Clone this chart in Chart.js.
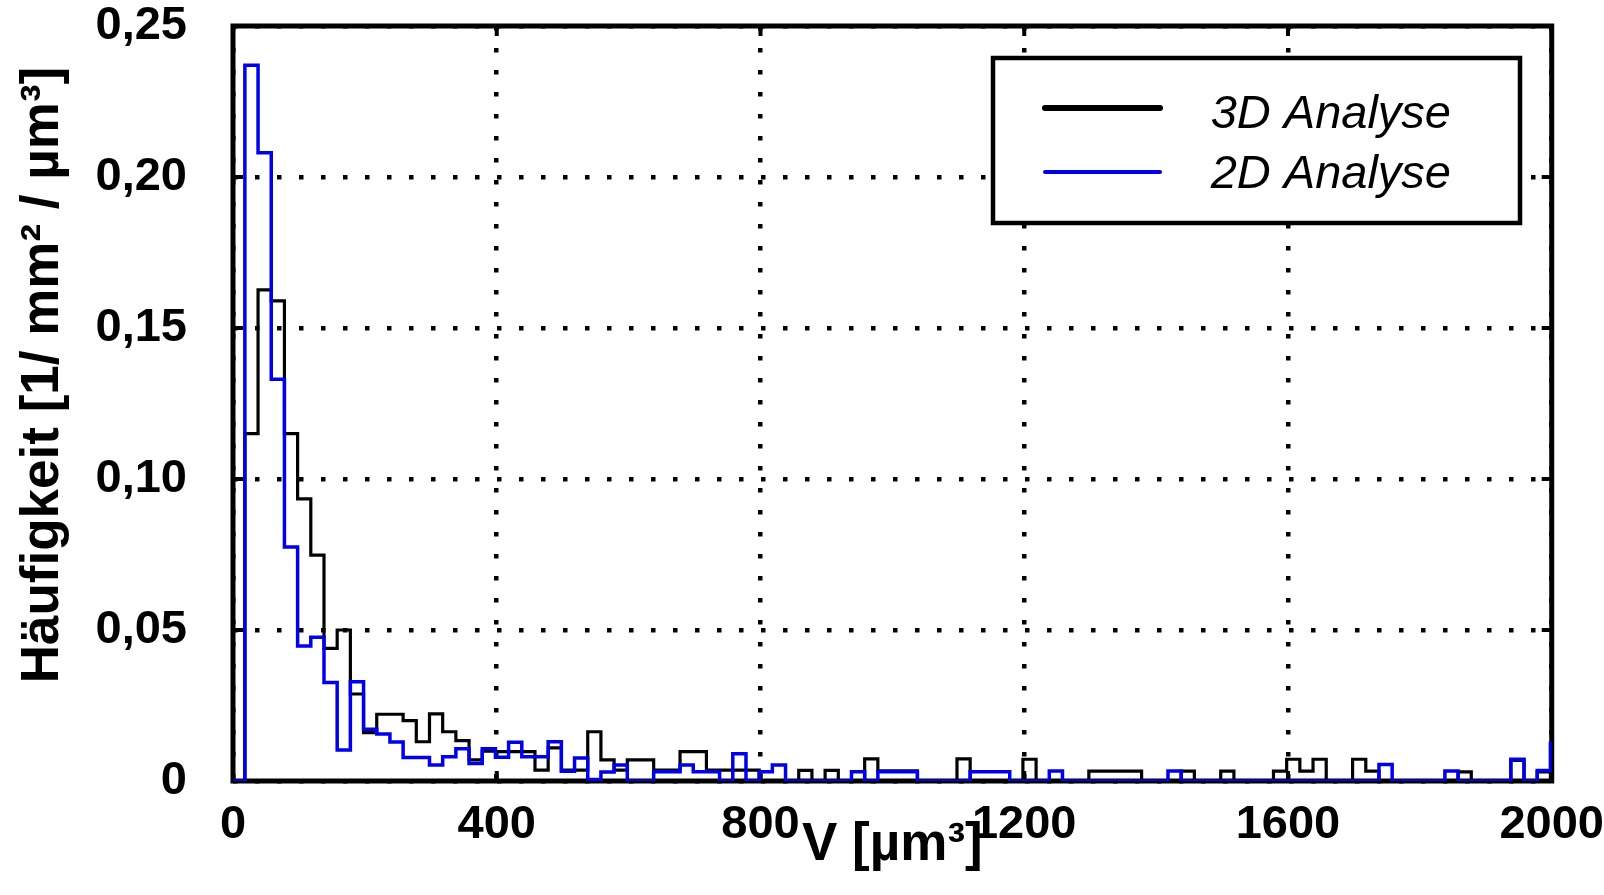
<!DOCTYPE html>
<html>
<head>
<meta charset="utf-8">
<script src="https://cdn.jsdelivr.net/npm/chart.js@4.4.0/dist/chart.umd.min.js"></script>
<style>
  html, body { margin: 0; padding: 0; background: #fff; }
  #wrap { width: 1604px; height: 895px; }
</style>
</head>
<body>
<div id="wrap"><canvas id="hist" width="1604" height="895"></canvas></div>
<script>
// histogram bins: left edge of first bin and bin width (µm³)
const binStart = 18;
const binWidth = 20;

const analyse3D = [
  0.115, 0.1626, 0.159, 0.115, 0.0934, 0.0748, 0.0439, 0.050, 0.0288, 0.016,
  0.0221, 0.0221, 0.02, 0.013, 0.0222, 0.0163, 0.0134, 0.007, 0.0099, 0.0097,
  0.0097, 0.0097, 0.0036, 0.011, 0.0036, 0.0036, 0.0163, 0.007, 0.0036, 0.007,
  0.007, 0.0036, 0.0036, 0.0097, 0.0097, 0.0036, 0.0036, 0.0036, 0.0036, 0,
  0, 0, 0.0035, 0, 0.0035, 0, 0, 0.0073, 0.0034, 0.0034,
  0.0034, 0, 0, 0, 0.0073, 0, 0, 0, 0, 0.0072,
  0, 0, 0, 0, 0.0033, 0.0033, 0.0033, 0.0033, 0, 0,
  0, 0.0033, 0, 0, 0.0033, 0, 0, 0, 0.0033, 0.0072,
  0.0033, 0.0072, 0, 0, 0.0072, 0.0033, 0, 0, 0, 0,
  0, 0, 0.003, 0, 0, 0, 0.0068, 0, 0.003, 0
];

const analyse2D = [
  0.237, 0.208, 0.133, 0.0775, 0.0447, 0.0476, 0.0326, 0.0103, 0.0329, 0.0171,
  0.0156, 0.0129, 0.0078, 0.0078, 0.0053, 0.008, 0.0107, 0.0058, 0.0107, 0.0079,
  0.0128, 0.008, 0.008, 0.013, 0.0032, 0.0076, 0.0005, 0.003, 0.0053, 0,
  0, 0.0031, 0.0031, 0.0053, 0.0031, 0.0031, 0, 0.009, 0, 0.0031,
  0.0053, 0, 0, 0, 0, 0, 0.0031, 0, 0.0031, 0.0031,
  0.0031, 0, 0, 0, 0, 0.0031, 0.0031, 0.0031, 0, 0,
  0, 0.0033, 0, 0, 0, 0, 0, 0, 0, 0,
  0.0033, 0, 0, 0, 0, 0, 0, 0, 0, 0,
  0, 0, 0, 0, 0, 0, 0.0055, 0, 0, 0,
  0, 0.0033, 0, 0, 0, 0, 0.0072, 0, 0.0035, 0.0125
];

const seriesNames = ['3D Analyse', '2D Analyse'];
const yTickLabels = ['0', '0,05', '0,10', '0,15', '0,20', '0,25'];
const xTitle = 'V [µm³]';
const yTitle = 'Häufigkeit [1/ mm² / µm³]';

const FONT = "'Liberation Sans', Arial, Helvetica, sans-serif";
const BLUE = '#0000ee';

// turn bin values into step points (left edge of every bin)
function toSteps(values) {
  const pts = [{ x: 0, y: 0 }];
  values.forEach((v, i) => pts.push({ x: binStart + i * binWidth, y: v }));
  pts.push({ x: binStart + values.length * binWidth, y: 0 });
  return pts;
}

// frame + inward tick marks under the lines, titles and legend on top
const framePlugin = {
  id: 'frame',
  beforeDatasetsDraw(chart) {
    const { ctx, chartArea: a, scales } = chart;
    ctx.save();
    ctx.strokeStyle = '#000';
    ctx.lineWidth = 4;
    ctx.beginPath();
    scales.x.ticks.forEach(t => {
      const px = scales.x.getPixelForValue(t.value);
      ctx.moveTo(px, a.bottom); ctx.lineTo(px, a.bottom - 10);
      ctx.moveTo(px, a.top); ctx.lineTo(px, a.top + 10);
    });
    scales.y.ticks.forEach(t => {
      const py = scales.y.getPixelForValue(t.value);
      ctx.moveTo(a.left, py); ctx.lineTo(a.left + 10, py);
      ctx.moveTo(a.right, py); ctx.lineTo(a.right - 10, py);
    });
    ctx.stroke();
    ctx.lineWidth = 5;
    ctx.strokeRect(a.left, a.top, a.right - a.left, a.bottom - a.top);
    ctx.restore();
  },
  afterDraw(chart) {
    const { ctx, chartArea: a } = chart;
    ctx.save();
    ctx.fillStyle = '#000';

    // axis titles
    ctx.font = 'bold 53px ' + FONT;
    ctx.textAlign = 'center';
    ctx.textBaseline = 'alphabetic';
    ctx.fillText(xTitle, (a.left + a.right) / 2, 860);

    ctx.save();
    ctx.translate(43, 375);
    ctx.rotate(-Math.PI / 2);
    ctx.textBaseline = 'middle';
    ctx.fillText(yTitle, 0, 0);
    ctx.restore();

    // legend box
    const bx = 993, by = 58, bw = 527, bh = 165;
    ctx.fillStyle = '#fff';
    ctx.fillRect(bx, by, bw, bh);
    ctx.strokeStyle = '#000';
    ctx.lineWidth = 4.5;
    ctx.strokeRect(bx, by, bw, bh);

    const rows = [
      { name: seriesNames[0], color: '#000', width: 6, y: 108, base: 128 },
      { name: seriesNames[1], color: BLUE, width: 4, y: 172, base: 188 }
    ];
    ctx.font = 'italic 47px ' + FONT;
    ctx.textAlign = 'right';
    rows.forEach(r => {
      ctx.strokeStyle = r.color;
      ctx.lineWidth = r.width;
      ctx.lineCap = 'round';
      ctx.beginPath();
      ctx.moveTo(1045, r.y);
      ctx.lineTo(1160, r.y);
      ctx.stroke();
      ctx.fillStyle = '#000';
      ctx.fillText(r.name, 1451, r.base);
    });
    ctx.restore();
  }
};

const tickFont = { family: FONT, size: 47, weight: 'bold', lineHeight: 1 };

new Chart(document.getElementById('hist'), {
  type: 'line',
  data: {
    datasets: [
      {
        label: seriesNames[1],
        data: toSteps(analyse2D),
        borderColor: BLUE,
        borderWidth: 3.5,
        stepped: true,
        pointRadius: 0,
        fill: false
      },
      {
        label: seriesNames[0],
        data: toSteps(analyse3D),
        borderColor: '#000',
        borderWidth: 3.2,
        stepped: true,
        pointRadius: 0,
        fill: false
      }
    ]
  },
  options: {
    responsive: false,
    animation: false,
    layout: { padding: { top: 26, right: 52, left: 0, bottom: 0 } },
    plugins: {
      legend: { display: false },
      tooltip: { enabled: false }
    },
    scales: {
      x: {
        type: 'linear',
        min: 0,
        max: 2000,
        ticks: {
          stepSize: 400,
          color: '#000',
          font: tickFont,
          padding: 0,
          maxRotation: 0,
          callback: v => String(v)
        },
        grid: { color: '#000', lineWidth: 4.5, drawTicks: true, tickLength: 21, tickColor: 'rgba(0,0,0,0)' },
        border: { display: false, dash: [4.5, 17.5] },
        afterFit(s) { s.height = 114; }
      },
      y: {
        min: 0,
        max: 0.25,
        ticks: {
          stepSize: 0.05,
          color: '#000',
          font: tickFont,
          padding: 0,
          callback: (v, i) => yTickLabels[i]
        },
        grid: { color: '#000', lineWidth: 4.5, drawTicks: true, tickLength: 46, tickColor: 'rgba(0,0,0,0)' },
        border: { display: false, dash: [4.5, 17.5] },
        afterFit(s) { s.width = 233; }
      }
    }
  },
  plugins: [framePlugin]
});
</script>
</body>
</html>
